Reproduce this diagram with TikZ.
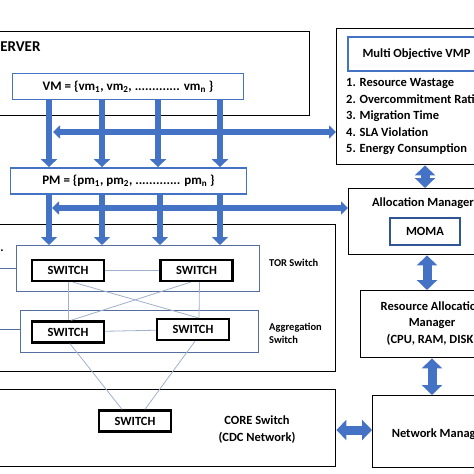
\documentclass[tikz,border=0pt]{standalone}
\usepackage{fontspec}
\setmainfont{Carlito}
\usetikzlibrary{arrows.meta}
\definecolor{vmpblue}{RGB}{68,114,196}
\definecolor{layerblue}{RGB}{84,110,160}
\definecolor{linkblue}{RGB}{160,176,204}
\definecolor{momablue}{RGB}{47,85,151}

\begin{document}
\begin{tikzpicture}[x=1pt,y=-1pt]
    \tikzstyle{every node}=[font=\bfseries\fontsize{12.5}{16.5}\selectfont, inner sep=0]
    \tikzstyle{frame}=[draw, line width=1.4pt, anchor=north west]
    \tikzstyle{setbox}=[draw=vmpblue, line width=1.8pt, minimum height=26pt, font=\bfseries\fontsize{13}{13}\selectfont]
    \tikzstyle{layer}=[draw=layerblue, line width=1.2pt, anchor=north west]
    \tikzstyle{switchbox}=[draw, line width=2.4pt, minimum width=72pt, minimum height=21pt, font=\bfseries\fontsize{12.5}{12.5}\selectfont]
    \tikzstyle{link}=[draw=linkblue, line width=0.8pt]
    \tikzstyle{flow}=[draw=vmpblue, line width=6pt, -{Triangle[width=16pt,length=8pt]}]
    \tikzstyle{flowboth}=[draw=vmpblue, line width=6pt, {Triangle[width=13pt,length=7pt]}-{Triangle[width=13pt,length=7pt]}]
    \tikzstyle{both}=[draw=vmpblue, line width=9pt, {Triangle[width=20pt,length=10pt]}-{Triangle[width=20pt,length=10pt]}]

    \useasboundingbox (0,0) rectangle (474,474);
    \clip (0,0) rectangle (474,474);

    % server side
    \node[frame, minimum width=329pt, minimum height=84pt] (server) at (-20,31) {};
    \node[anchor=west, font=\bfseries\fontsize{15}{15}\selectfont] (servertxt) at (-7,47) {SERVER};
    \node[setbox, minimum width=231pt] (vm) at (128,86.5) {VM = \{vm\textsubscript{1}, vm\textsubscript{2}, ............. vm\textsubscript{n} \}};
    \node[setbox, minimum width=236pt] (pm) at (128.5,181) {PM = \{pm\textsubscript{1}, pm\textsubscript{2}, ............. pm\textsubscript{n} \}};

    % data center network
    \node[frame, minimum width=355pt, minimum height=147pt] (dc) at (-20,224) {};
    \node (dot) at (2,251) {.};
    \node[layer, minimum width=243pt, minimum height=46pt] (tor) at (16,245) {};
    \node[layer, minimum width=238pt, minimum height=42pt] (agg) at (20,310) {};
    \coordinate (torin) at (-5,268);
    \coordinate (aggin) at (-5,329);
    \draw[layerblue, line width=1pt] (torin) -- (torin -| tor.west);
    \draw[layerblue, line width=1pt] (aggin) -- (aggin -| agg.west);
    \node[switchbox] (s1) at (68,270.5) {SWITCH};
    \node[switchbox] (s2) at (196.5,270.5) {SWITCH};
    \node[switchbox] (s3) at (68,332) {SWITCH};
    \node[switchbox] (s4) at (193,329.5) {SWITCH};
    \node[anchor=west, font=\bfseries\fontsize{10.5}{13}\selectfont] (torlbl) at (269,263) {TOR Switch};
    \node[anchor=west, align=left, font=\bfseries\fontsize{10.5}{13}\selectfont] (agglbl) at (269,333.5) {Aggregation\\Switch};

    \node[frame, minimum width=355pt, minimum height=77pt] (core) at (-20,389) {};
    \node[switchbox] (s5) at (135,421) {SWITCH};
    \node[align=center] (corelbl) at (257,429.5) {CORE Switch\\(CDC Network)};

    \draw[link] (s1) -- (s2);
    \draw[link] (s3) -- (s4);
    \draw[link] (s1.south) -- (s3.north);
    \draw[link] ([xshift=3pt]s2.south) -- ([xshift=6pt]s4.north);
    \draw[link] ([xshift=5pt]s1.south) -- ([xshift=5pt]s4.north);
    \draw[link] ([xshift=-6pt]s2.south) -- ([xshift=3pt]s3.north);
    \draw[link] ([xshift=2pt]s3.south) -- ([xshift=-13pt]s5.north);
    \draw[link] ([xshift=2pt]s4.south) -- ([xshift=10pt]s5.north);

    % management side
    \node[frame, minimum width=170pt, minimum height=136pt] (multi) at (336,28) {};
    \node[draw=vmpblue, line width=1.6pt, minimum width=137pt, minimum height=34pt] (vmp) at (416.5,54) {Multi Objective VMP};
    \foreach \t [count=\i] in {Resource Wastage, Overcommitment Ratio, Migration Time, SLA Violation, Energy Consumption}
        \node[anchor=west] (obj\i) at (346,66.5+16.5*\i) {\i. \t};

    \node[frame, minimum width=154pt, minimum height=66pt] (alloc) at (348,188) {};
    \node (alloctxt) at (423,203) {Allocation Manager};
    \node[draw=momablue, line width=2pt, minimum width=70pt, minimum height=27pt] (moma) at (425,231.5) {MOMA};

    \node[frame, minimum width=142pt, minimum height=67pt] (res) at (360,290) {};
    \node[align=center] (restxt) at (432,323.5) {Resource Allocation\\Manager\\(CPU, RAM, DISK)};

    \node[frame, minimum width=130pt, minimum height=72pt] (net) at (372,395) {};
    \node (nettxt) at (439,434) {Network Manager};

    % arrows
    \coordinate (h1) at (53,132);
    \coordinate (h2) at (52,208);
    \draw[flowboth] (h1) -- (h1 -| multi.west);
    \draw[flowboth] (h2) -- (h2 -| alloc.west);
    \foreach \x in {49,102,158,220}
        \draw[flow] (\x,0 |- vm.south) -- (\x,0 |- pm.north);
    \foreach \x in {49,102,160,220}
        \draw[flow] (\x,0 |- pm.south) -- (\x,0 |- tor.north);

    \draw[both] (425,0 |- multi.south) -- (425,0 |- alloc.north);
    \draw[both] (427,0 |- alloc.south) -- (427,0 |- res.north);
    \draw[both] (432,0 |- res.south) -- (432,0 |- net.north);
    \draw[both] (core.east |- 0,430) -- (net.west |- 0,430);

\end{tikzpicture}
\end{document}
